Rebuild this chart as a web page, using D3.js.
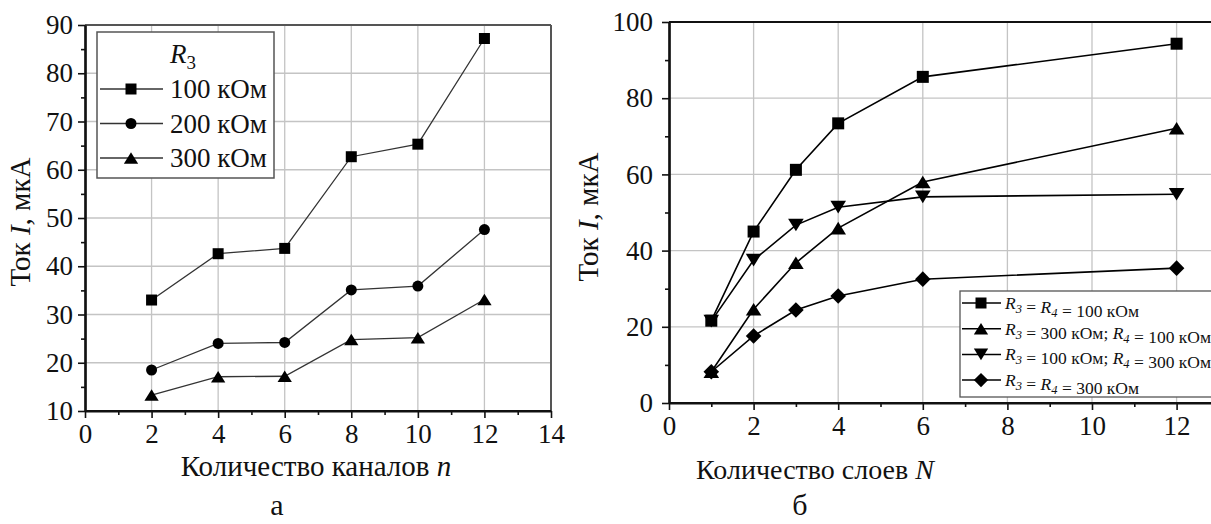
<!DOCTYPE html>
<html>
<head>
<meta charset="utf-8">
<script src="https://cdn.jsdelivr.net/npm/d3@7"></script>
<style>
  body { margin: 0; background: #fff; }
  svg, svg text { font-family: "Liberation Serif", "Times New Roman", serif; }
</style>
</head>
<body>
<div id="chart"></div>
<script>
"use strict";

// Panel (a): current vs number of channels
const channels = [2, 4, 6, 8, 10, 12];
const currentR100 = [33.0, 42.6, 43.7, 62.7, 65.3, 87.2];
const currentR200 = [18.5, 24.0, 24.2, 35.1, 35.9, 47.6];
const currentR300 = [13.3, 17.1, 17.2, 24.8, 25.2, 33.1];
const legendA = ["100 кОм", "200 кОм", "300 кОм"];

// Panel (b): current vs number of layers
const layers = [1, 2, 3, 4, 6, 12];
const currentBoth100 = [21.6, 45.0, 61.2, 73.4, 85.6, 94.3];
const current300_100 = [8.2, 24.6, 36.8, 45.9, 58.0, 72.1];
const current100_300 = [21.5, 37.5, 46.7, 51.4, 54.1, 54.8];
const currentBoth300 = [8.2, 17.6, 24.4, 28.1, 32.5, 35.4];
const legendB = [
    [["R", "3"], " = ", ["R", "4"], " = 100 кОм"],
    [["R", "3"], " = 300 кОм; ", ["R", "4"], " = 100 кОм"],
    [["R", "3"], " = 100 кОм; ", ["R", "4"], " = 300 кОм"],
    [["R", "3"], " = ", ["R", "4"], " = 300 кОм"]
];

const width = 1211, height = 524;
const svg = d3.select("#chart").append("svg")
    .attr("width", width).attr("height", height);

// marker paths centred on their bounding box
function marker(type, s) {
    const h = s / 2;
    if (type === "square") return `M${-h},${-h}H${h}V${h}H${-h}Z`;
    if (type === "circle") return d3.symbol(d3.symbolCircle, Math.PI * h * h)();
    if (type === "up") return `M0,${-h * 1.05}L${h * 1.3},${h * 1.05}L${-h * 1.3},${h * 1.05}Z`;
    if (type === "down") return `M0,${h * 1.05}L${h * 1.3},${-h * 1.05}L${-h * 1.3},${-h * 1.05}Z`;
    if (type === "diamond") return `M0,${-h * 1.3}L${h * 1.3},0L0,${h * 1.3}L${-h * 1.3},0Z`;
}

function drawPanel(opt) {
    const g = svg.append("g");
    const x = d3.scaleLinear().domain(opt.xDomain).range(opt.xRange);
    const y = d3.scaleLinear().domain(opt.yDomain).range(opt.yRange);
    const [x0, x1] = opt.xRange, [y0, y1] = opt.yRange;
    const xEnd = Math.min(x1, width + 5);

    // grid
    g.append("g").selectAll("line").data(opt.xGrid).join("line")
        .attr("x1", d => x(d)).attr("x2", d => x(d))
        .attr("y1", y0).attr("y2", y1)
        .attr("stroke", "#c4c4c4").attr("stroke-width", 1.3);
    g.append("g").selectAll("line").data(opt.yGrid).join("line")
        .attr("x1", x0).attr("x2", xEnd)
        .attr("y1", d => y(d)).attr("y2", d => y(d))
        .attr("stroke", "#c4c4c4").attr("stroke-width", 1.3);

    // frame top and right
    g.append("line").attr("x1", x0).attr("x2", xEnd).attr("y1", y1).attr("y2", y1)
        .attr("stroke", opt.frameColor).attr("stroke-width", 2);
    if (x1 <= width) {
        g.append("line").attr("x1", x1).attr("x2", x1).attr("y1", y0).attr("y2", y1)
            .attr("stroke", opt.frameColor).attr("stroke-width", 2);
    }

    // axes
    const xAxis = g.append("g").attr("transform", `translate(0,${y0})`)
        .call(d3.axisBottom(x).tickValues(opt.xTicks).tickSize(7).tickSizeOuter(0).tickPadding(6));
    const xMinor = g.append("g").attr("transform", `translate(0,${y0})`)
        .call(d3.axisBottom(x).tickValues(opt.xMinor).tickSize(4).tickSizeOuter(0).tickFormat(""));
    const yAxis = g.append("g").attr("transform", `translate(${x0},0)`)
        .call(d3.axisLeft(y).tickValues(opt.yTicks).tickSize(7).tickSizeOuter(0).tickPadding(opt.yPad));
    const yMinor = g.append("g").attr("transform", `translate(${x0},0)`)
        .call(d3.axisLeft(y).tickValues(opt.yMinor).tickSize(4).tickSizeOuter(0).tickFormat(""));
    [xAxis, xMinor, yAxis, yMinor].forEach(a => {
        a.attr("font-size", 27);
        a.select(".domain").attr("stroke", "#111").attr("stroke-width", 2.2);
        a.selectAll(".tick line").attr("stroke", "#111").attr("stroke-width", 1.6);
        a.selectAll("text").attr("fill", "#111");
    });
    xAxis.select(".domain").attr("d", `M${x0},0H${xEnd}`);

    // series
    const line = d3.line().x(d => x(d[0])).y(d => y(d[1]));
    opt.series.forEach(s => {
        const pts = opt.xs.map((v, i) => [v, s.values[i]]);
        g.append("path").datum(pts).attr("d", line)
            .attr("fill", "none").attr("stroke", opt.lineColor).attr("stroke-width", opt.lineWidth);
        g.append("g").selectAll("path").data(pts).join("path")
            .attr("transform", d => `translate(${x(d[0])},${y(d[1])})`)
            .attr("d", marker(s.type, opt.markerSize))
            .attr("fill", "#000");
    });

    // axis titles
    const yt = g.append("text")
        .attr("transform", `translate(${opt.yTitlePos[0]},${opt.yTitlePos[1]}) rotate(-90)`)
        .attr("text-anchor", "middle").attr("font-size", 29).attr("fill", "#111");
    yt.append("tspan").text("Ток ");
    yt.append("tspan").attr("font-style", "italic").text("I");
    yt.append("tspan").text(", мкА");

    const xt = g.append("text")
        .attr("x", opt.xTitlePos[0]).attr("y", opt.xTitlePos[1])
        .attr("text-anchor", "middle").attr("font-size", opt.xTitleSize).attr("fill", "#111");
    xt.append("tspan").text(opt.xTitle[0]);
    xt.append("tspan").attr("font-style", "italic").text(opt.xTitle[1]);

    g.append("text").attr("x", opt.letterPos[0]).attr("y", opt.letterPos[1])
        .attr("text-anchor", "middle").attr("font-size", 30).attr("fill", "#111")
        .text(opt.letter);
    return g;
}

// ---------- panel a ----------
const gA = drawPanel({
    xDomain: [0, 14], xRange: [85, 551],
    yDomain: [10, 90], yRange: [411, 25],
    xGrid: [2, 4, 6, 8, 10, 12], yGrid: [20, 30, 40, 50, 60, 70, 80],
    xTicks: d3.range(0, 15, 2), xMinor: d3.range(1, 14, 2),
    yTicks: d3.range(10, 91, 10), yMinor: d3.range(15, 90, 10), yPad: 5,
    frameColor: "#555", lineColor: "#333", lineWidth: 1.3, markerSize: 11,
    xs: channels,
    series: [
        { values: currentR100, type: "square" },
        { values: currentR200, type: "circle" },
        { values: currentR300, type: "up" }
    ],
    yTitlePos: [30, 222], xTitlePos: [316, 476], xTitle: ["Количество каналов ", "n"],
    xTitleSize: 29,
    letter: "а", letterPos: [277, 515]
});

// legend a
const legA = gA.append("g");
legA.append("rect").attr("x", 97).attr("y", 32).attr("width", 177).attr("height", 146)
    .attr("fill", "#fff").attr("stroke", "#555").attr("stroke-width", 1.5);
const titleA = legA.append("text").attr("x", 183).attr("y", 63)
    .attr("text-anchor", "middle").attr("font-size", 27).attr("fill", "#111");
titleA.append("tspan").attr("font-style", "italic").text("R");
titleA.append("tspan").attr("font-size", 19).attr("dy", 6).text("3");
const typesA = ["square", "circle", "up"];
legendA.forEach((label, i) => {
    const cy = 89 + i * 34.5;
    legA.append("line").attr("x1", 100).attr("x2", 163).attr("y1", cy).attr("y2", cy)
        .attr("stroke", "#333").attr("stroke-width", 1.3);
    legA.append("path").attr("transform", `translate(131,${cy})`)
        .attr("d", marker(typesA[i], 11)).attr("fill", "#000");
    legA.append("text").attr("x", 170).attr("y", cy + 9)
        .attr("font-size", 27).attr("fill", "#111").text(label);
});

// ---------- panel b ----------
const gB = drawPanel({
    xDomain: [0, 13.5], xRange: [669, 669 + 13.5 * 42.3],
    yDomain: [0, 100], yRange: [403, 22],
    xGrid: [2, 4, 6, 8, 10, 12], yGrid: [20, 40, 60, 80],
    xTicks: d3.range(0, 13, 2), xMinor: d3.range(1, 14, 2),
    yTicks: d3.range(0, 101, 20), yMinor: d3.range(10, 100, 20), yPad: 9,
    frameColor: "#111", lineColor: "#000", lineWidth: 1.6, markerSize: 12,
    xs: layers,
    series: [
        { values: currentBoth100, type: "square" },
        { values: current300_100, type: "up" },
        { values: current100_300, type: "down" },
        { values: currentBoth300, type: "diamond" }
    ],
    yTitlePos: [598, 217], xTitlePos: [815, 479], xTitle: ["Количество слоев ", "N"],
    xTitleSize: 28,
    letter: "б", letterPos: [800, 515]
});

// legend b
const legB = gB.append("g");
legB.append("rect").attr("x", 960).attr("y", 291).attr("width", 280).attr("height", 106)
    .attr("fill", "#fff").attr("stroke", "#555").attr("stroke-width", 1.3);
const typesB = ["square", "up", "down", "diamond"];
legendB.forEach((parts, i) => {
    const cy = 303 + i * 25.7;
    legB.append("line").attr("x1", 962).attr("x2", 1001).attr("y1", cy).attr("y2", cy)
        .attr("stroke", "#000").attr("stroke-width", 1.5);
    legB.append("path").attr("transform", `translate(981,${cy})`)
        .attr("d", marker(typesB[i], 11)).attr("fill", "#000");
    const t = legB.append("text").attr("x", 1005).attr("y", cy + 6)
        .attr("font-size", 17.5).attr("fill", "#111");
    parts.forEach(p => {
        if (Array.isArray(p)) {
            t.append("tspan").attr("font-style", "italic").text(p[0]);
            t.append("tspan").attr("font-style", "italic").attr("font-size", 12.5)
                .attr("dy", 4).text(p[1]);
            t.append("tspan").attr("dy", -4).text("");
        } else {
            t.append("tspan").text(p);
        }
    });
});
</script>
</body>
</html>
